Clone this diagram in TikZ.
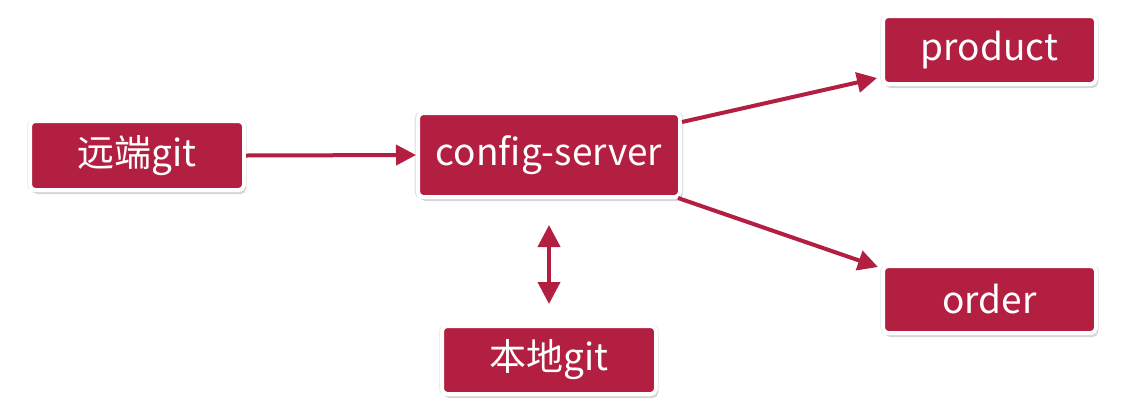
\documentclass[tikz,border=0pt]{standalone}
\usepackage{fontspec}
\setmainfont{Noto Sans CJK SC}
\usetikzlibrary{shadows,arrows.meta,calc}
\definecolor{boxred}{HTML}{B31F41}
\tikzset{
  box/.style={rectangle, rounded corners=5pt, fill=boxred, draw=white, line width=4pt,
    text=white, font=\fontsize{37}{44}\selectfont, inner sep=0pt,
    general shadow={shadow scale=1.025, opacity=0.10, fill=black},
    drop shadow={shadow xshift=2pt, shadow yshift=-4pt, opacity=0.16, fill=black}},
  conn/.style={draw=boxred, line width=4pt, -{Triangle[length=20pt,width=20pt]}},
  dconn/.style={draw=boxred, line width=4pt, {Triangle[length=22pt,width=22pt]}-{Triangle[length=22pt,width=22pt]}}
}
\begin{document}
\begin{tikzpicture}[x=1pt,y=-1pt]
\useasboundingbox[fill=white] (0,0) rectangle (1134,413);
\node[box, minimum width=214pt, minimum height=69pt] (remote) at (137,155.5) {远端git};
\node[box, minimum width=262pt, minimum height=84pt] (cs) at (549,155) {config-server};
\node[box, minimum width=213pt, minimum height=68pt] (prod) at (989.5,50) {product};
\node[box, minimum width=213pt, minimum height=67pt] (order) at (989.5,299.5) {order};
\node[box, minimum width=214pt, minimum height=68pt] (local) at (549,360) {本地git};
\draw[conn] (remote.east) -- (cs.west);
\draw[conn] ([yshift=-11pt]cs.north east) -- ([xshift=-4pt,yshift=8pt]prod.south west);
\draw[conn] ([xshift=-4pt,yshift=1pt]cs.south east) -- ([xshift=-3pt,yshift=-3pt]order.north west);
\draw[dconn] ([yshift=-26pt]cs.south) -- ([yshift=20pt]local.north);
\end{tikzpicture}
\end{document}
